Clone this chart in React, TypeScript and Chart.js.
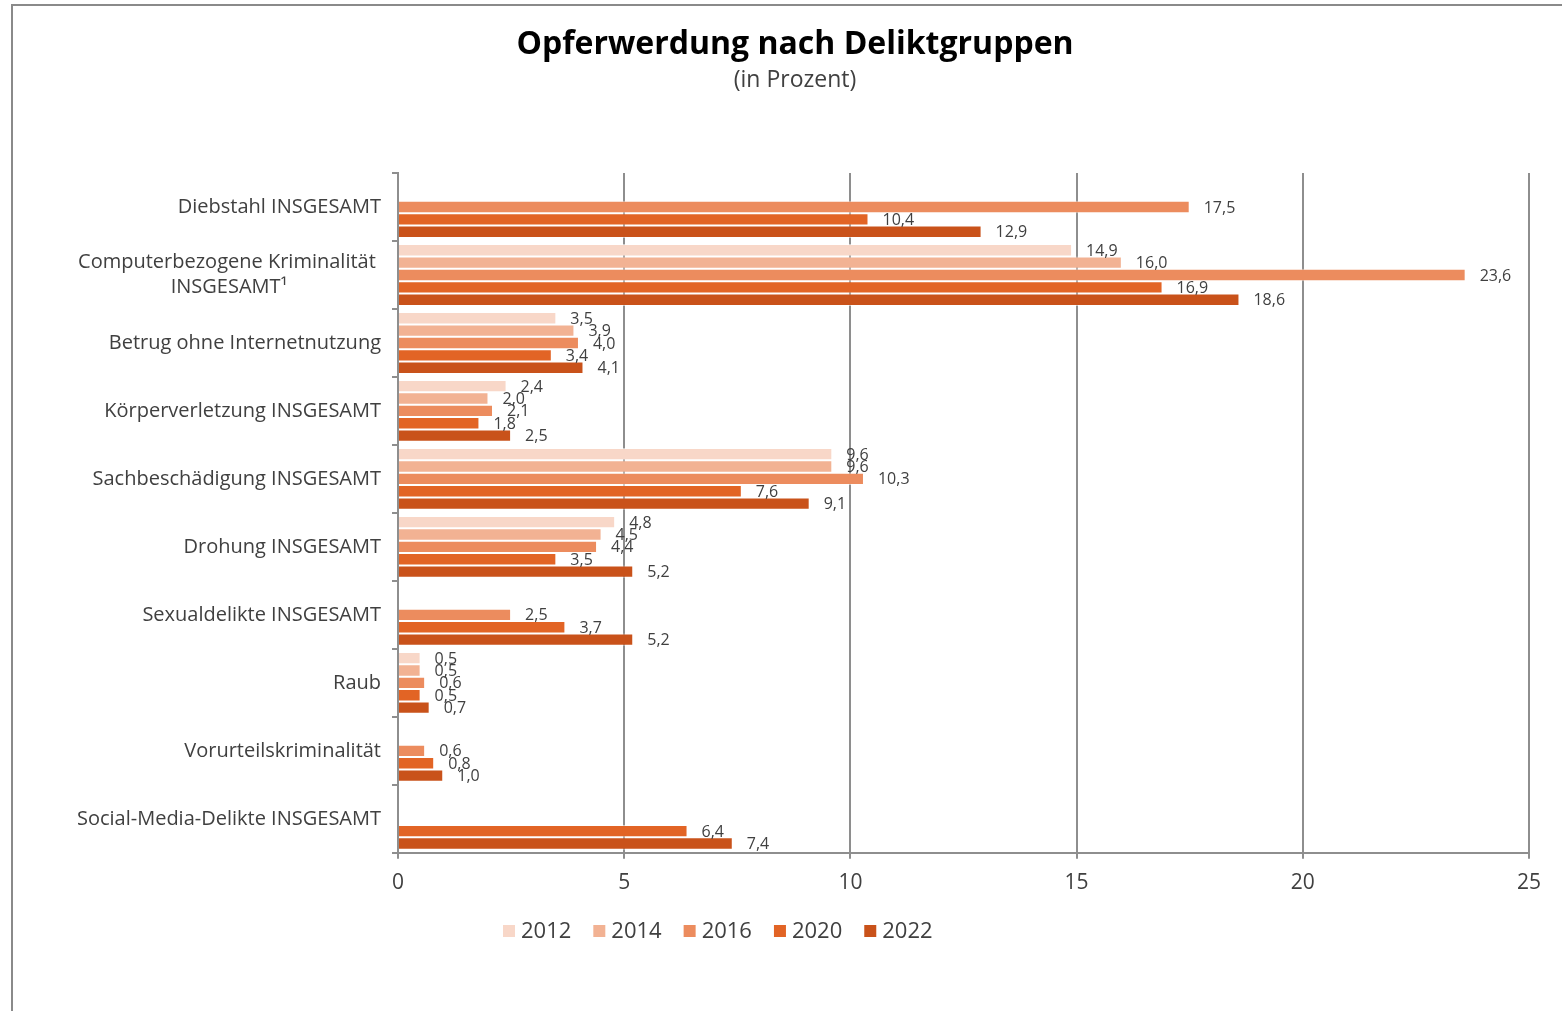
import React, { useEffect, useRef } from 'react';
import { Chart, registerables } from 'chart.js';

Chart.register(...registerables);

const FONT = "'Open Sans', 'DejaVu Sans', sans-serif";

const titleText = 'Opferwerdung nach Deliktgruppen';
const subtitleText = '(in Prozent)';

const categories: (string | string[])[] = [
  'Diebstahl INSGESAMT',
  ['Computerbezogene Kriminalität ', 'INSGESAMT¹'],
  'Betrug ohne Internetnutzung',
  'Körperverletzung INSGESAMT',
  'Sachbeschädigung INSGESAMT',
  'Drohung INSGESAMT',
  'Sexualdelikte INSGESAMT',
  'Raub',
  'Vorurteilskriminalität',
  'Social-Media-Delikte INSGESAMT',
];

const seriesNames = ['2012', '2014', '2016', '2020', '2022'];
const seriesColors = ['#F8D7C8', '#F2B293', '#EC8C5E', '#E26425', '#C9521A'];

const values2012 = [null, 14.9, 3.5, 2.4, 9.6, 4.8, null, 0.5, null, null];
const values2014 = [null, 16.0, 3.9, 2.0, 9.6, 4.5, null, 0.5, null, null];
const values2016 = [17.5, 23.6, 4.0, 2.1, 10.3, 4.4, 2.5, 0.6, 0.6, null];
const values2020 = [10.4, 16.9, 3.4, 1.8, 7.6, 3.5, 3.7, 0.5, 0.8, 6.4];
const values2022 = [12.9, 18.6, 4.1, 2.5, 9.1, 5.2, 5.2, 0.7, 1.0, 7.4];

const seriesValues = [values2012, values2014, values2016, values2020, values2022];

const xTicks = [0, 5, 10, 15, 20, 25];

const fmt = (v: number) => v.toFixed(1).replace('.', ',');

const GRID = '#8e8e8e';
const TEXT = '#404040';

function centerLines(lines: string[], font: string): string[] {
  const c = document.createElement('canvas').getContext('2d');
  if (!c) return lines;
  c.font = font;
  const sp = c.measureText(' ').width || 5;
  const widths = lines.map((l) => c.measureText(l).width);
  const maxW = Math.max(...widths);
  return lines.map((l, i) => l + ' '.repeat(Math.round((maxW - widths[i]) / 2 / sp)));
}

const valueLabelPlugin = {
  id: 'valueLabels',
  afterDatasetsDraw(chart: any) {
    const ctx = chart.ctx;
    ctx.save();
    ctx.font = `16px ${FONT}`;
    ctx.fillStyle = TEXT;
    ctx.textAlign = 'left';
    ctx.textBaseline = 'middle';
    chart.data.datasets.forEach((ds: any, di: number) => {
      const meta = chart.getDatasetMeta(di);
      meta.data.forEach((el: any, i: number) => {
        const v = ds.data[i];
        if (v === null || v === undefined) return;
        ctx.fillText(fmt(v), el.x + 14, el.y + 1);
      });
    });
    ctx.restore();
  },
};

const legendPlugin = {
  id: 'bottomLegend',
  afterDraw(chart: any) {
    const ctx = chart.ctx;
    ctx.save();
    ctx.font = `22px ${FONT}`;
    ctx.textBaseline = 'middle';
    ctx.textAlign = 'left';
    let x = 503;
    const y = 931;
    chart.data.datasets.forEach((ds: any) => {
      ctx.fillStyle = ds.backgroundColor;
      ctx.fillRect(x, y - 6, 12, 12);
      ctx.fillStyle = TEXT;
      ctx.fillText(ds.label, x + 18, y + 1);
      x += 18 + ctx.measureText(ds.label).width + 22;
    });
    ctx.restore();
  },
};

export default function App() {
  const ref = useRef<HTMLCanvasElement | null>(null);

  useEffect(() => {
    if (!ref.current) return;
    const catFont = `20px ${FONT}`;
    const labels = categories.map((c) => (Array.isArray(c) ? centerLines(c, catFont) : c));
    const chart = new Chart(ref.current, {
      type: 'bar',
      data: {
        labels,
        datasets: seriesNames.map((name, i) => ({
          label: name,
          data: seriesValues[i],
          backgroundColor: seriesColors[i],
          borderColor: 'rgba(255,255,255,0.55)',
          borderWidth: 1,
          categoryPercentage: 0.91,
          barPercentage: 1,
        })),
      },
      options: {
        indexAxis: 'y',
        animation: false,
        responsive: false,
        maintainAspectRatio: false,
        layout: { padding: { left: 61, right: 33, top: 0, bottom: 103 } },
        plugins: {
          legend: { display: false },
          tooltip: { enabled: false },
          title: {
            display: true,
            text: titleText,
            color: '#000',
            font: { family: FONT, size: 32, weight: 'bold' },
            padding: { top: 26, bottom: 0 },
          },
          subtitle: {
            display: true,
            text: subtitleText,
            color: TEXT,
            font: { family: FONT, size: 23, weight: 'normal' },
            padding: { top: 2, bottom: 79 },
          },
        },
        scales: {
          x: {
            min: 0,
            max: 25,
            afterBuildTicks: (scale: any) => {
              scale.ticks = xTicks.map((v) => ({ value: v }));
            },
            grid: { color: GRID, lineWidth: 2, tickLength: 6, drawTicks: true },
            border: { color: GRID, width: 2 },
            ticks: {
              color: TEXT,
              font: { family: FONT, size: 21 },
              padding: 12,
              maxRotation: 0,
            },
          },
          y: {
            afterFit: (scale: any) => {
              scale.width = 337;
            },
            grid: { drawOnChartArea: false, drawTicks: true, tickLength: 6, color: GRID, lineWidth: 2, offset: true },
            border: { color: GRID, width: 2 },
            ticks: {
              color: TEXT,
              font: { family: FONT, size: 20, lineHeight: 1.25 },
              padding: 11,
              autoSkip: false,
            },
          },
        },
      },
      plugins: [valueLabelPlugin, legendPlugin],
    } as any);
    return () => chart.destroy();
  }, []);

  return (
    <div style={{ position: 'fixed', left: 0, top: 0, width: 1562, height: 1011, background: '#fff' }}>
      <canvas ref={ref} width={1562} height={1011} style={{ display: 'block', width: 1562, height: 1011 }} />
      <div
        style={{
          position: 'absolute',
          left: 11,
          top: 4,
          width: 1562,
          height: 1011,
          borderLeft: '2px solid #8a8a8a',
          borderTop: '2px solid #8a8a8a',
          pointerEvents: 'none',
        }}
      />
    </div>
  );
}
